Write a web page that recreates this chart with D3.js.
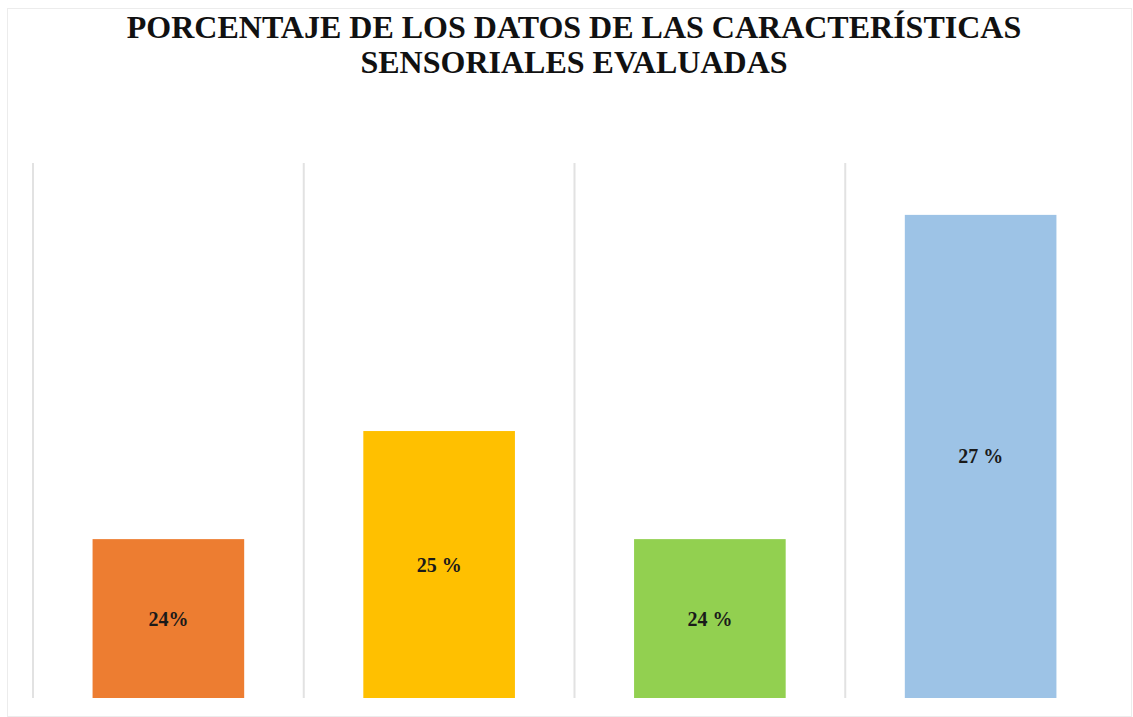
<!DOCTYPE html>
<html>
<head>
<meta charset="UTF-8">
<style>
  body { margin: 0; background: #fff; }
  .title { font-family: "Liberation Serif", "Times New Roman", serif; font-weight: bold; font-size: 32px; fill: #111; }
  .label { font-family: "Liberation Serif", "Times New Roman", serif; font-weight: bold; font-size: 20px; fill: #1a1a1a; }
  .grid { stroke: #e2e2e2; stroke-width: 2px; }
</style>
</head>
<body>
<svg class="chart" width="1133" height="717"></svg>
<script src="https://d3js.org/d3.v7.min.js"></script>
<script>

// data
var categories = ["A", "B", "C", "D"];
var values = [24, 25, 24, 27];
var labels = ["24%", "25 %", "24 %", "27 %"];
var colors = ["#ED7D31", "#FFC000", "#92D050", "#9DC3E6"];
var titleLines = ["PORCENTAJE DE LOS DATOS DE LAS CARACTERÍSTICAS", "SENSORIALES EVALUADAS"];

var svg = d3.select(".chart");

// plot area
var margin = {top: 163, right: 17, bottom: 19, left: 33},
    width = 1133 - margin.left - margin.right,
    height = 717 - margin.top - margin.bottom;

// faint outer frame of the chart
svg.append("rect")
    .attr("x", 7.5).attr("y", 8.5)
    .attr("width", 1124).attr("height", 708)
    .attr("fill", "none")
    .attr("stroke", "#ececec");

// axis does not start at zero
var x = d3.scaleBand().domain(categories).range([0, width]).paddingInner(0).paddingOuter(0);
var y = d3.scaleLinear().domain([22.53, 27.48]).range([height, 0]);

var g = svg.append("g")
    .attr("transform", "translate(" + margin.left + "," + margin.top + ")");

// vertical lines on the left side of every category
g.selectAll("line.grid")
    .data(categories)
  .enter().append("line")
    .attr("class", "grid")
    .attr("x1", function(d) { return x(d); })
    .attr("x2", function(d) { return x(d); })
    .attr("y1", 0)
    .attr("y2", height);

var barW = x.bandwidth() * 0.56;

g.selectAll("rect.bar")
    .data(values)
  .enter().append("rect")
    .attr("class", "bar")
    .attr("x", function(d, i) { return x(categories[i]) + (x.bandwidth() - barW) / 2; })
    .attr("y", function(d) { return y(d); })
    .attr("width", barW)
    .attr("height", function(d) { return height - y(d); })
    .attr("fill", function(d, i) { return colors[i]; });

g.selectAll("text.label")
    .data(values)
  .enter().append("text")
    .attr("class", "label")
    .attr("text-anchor", "middle")
    .attr("dy", "0.35em")
    .attr("x", function(d, i) { return x(categories[i]) + x.bandwidth() / 2; })
    .attr("y", function(d) { return (y(d) + height) / 2; })
    .text(function(d, i) { return labels[i]; });

// title
svg.selectAll("text.title")
    .data(titleLines)
  .enter().append("text")
    .attr("class", "title")
    .attr("text-anchor", "middle")
    .attr("x", 574)
    .attr("y", function(d, i) { return 38 + i * 35; })
    .text(function(d) { return d; });

</script>
</body>
</html>
